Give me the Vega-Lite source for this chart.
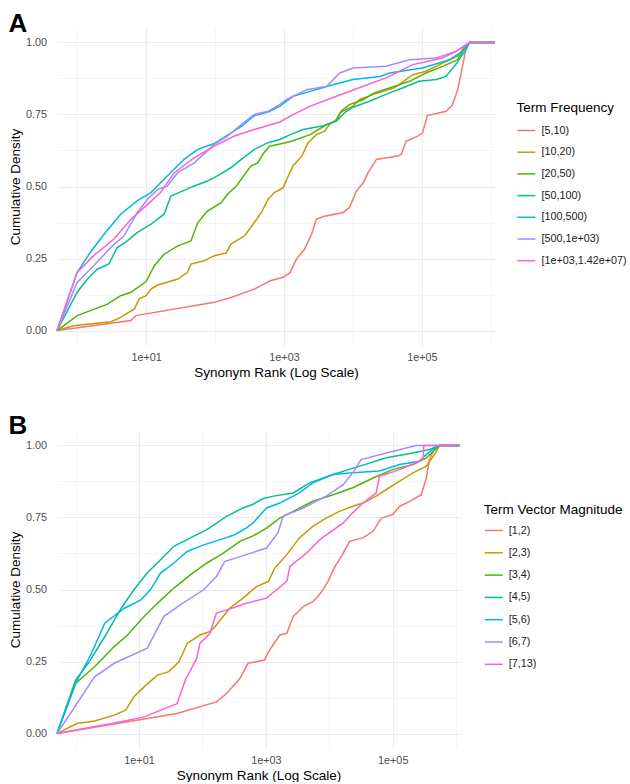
{
"$schema": "https://vega.github.io/schema/vega-lite/v6.json",
"padding": {"left": 8, "top": 11, "right": 0, "bottom": 0},
"config": {
  "view": {"stroke": null},
  "font": "Liberation Sans",
  "concat": {"spacing": 33},
  "title": {"fontSize": 26, "fontWeight": "bold", "anchor": "start", "frame": "bounds", "offset": -9, "color": "#000"},
  "axis": {"domain": false, "ticks": false, "tickSize": 0, "labelColor": "#4D4D4D", "labelFontSize": 10.8, "titleFontSize": 13.5, "titleFontWeight": "normal", "titleColor": "#000"},
  "axisX": {"labelPadding": 6, "titlePadding": 3.5},
  "axisY": {"labelPadding": 10.5, "titlePadding": 3},
  "legend": {"symbolType": "stroke", "symbolSize": 324, "symbolStrokeWidth": 1.5, "labelFontSize": 10.8, "labelColor": "#1A1A1A", "titleFontSize": 13.5, "titleFontWeight": "normal", "titleColor": "#000", "labelOffset": 5, "titlePadding": 6, "padding": 0}
},
"resolve": {"scale": {"color": "independent"}, "legend": {"color": "independent"}},
"datasets": {
"A": [
{"group":"[5,10)","rank":0.51,"density":0},{"group":"[5,10)","rank":6.03,"density":0.035},{"group":"[5,10)","rank":7.08,"density":0.052},{"group":"[5,10)","rank":97.7,"density":0.098},{"group":"[5,10)","rank":170,"density":0.115},{"group":"[5,10)","rank":372,"density":0.144},{"group":"[5,10)","rank":631,"density":0.173},{"group":"[5,10)","rank":977,"density":0.185},{"group":"[5,10)","rank":1230,"density":0.202},{"group":"[5,10)","rank":1514,"density":0.248},{"group":"[5,10)","rank":1995,"density":0.283},{"group":"[5,10)","rank":2512,"density":0.334},{"group":"[5,10)","rank":2951,"density":0.386},{"group":"[5,10)","rank":3715,"density":0.396},{"group":"[5,10)","rank":7244,"density":0.41},{"group":"[5,10)","rank":8913,"density":0.427},{"group":"[5,10)","rank":11220,"density":0.484},{"group":"[5,10)","rank":14130,"density":0.513},{"group":"[5,10)","rank":16600,"density":0.548},{"group":"[5,10)","rank":21880,"density":0.594},{"group":"[5,10)","rank":44670,"density":0.606},{"group":"[5,10)","rank":50120,"density":0.611},{"group":"[5,10)","rank":58880,"density":0.657},{"group":"[5,10)","rank":87100,"density":0.675},{"group":"[5,10)","rank":102300,"density":0.686},{"group":"[5,10)","rank":120200,"density":0.746},{"group":"[5,10)","rank":223900,"density":0.761},{"group":"[5,10)","rank":275400,"density":0.782},{"group":"[5,10)","rank":331100,"density":0.836},{"group":"[5,10)","rank":380200,"density":0.905},{"group":"[5,10)","rank":436500,"density":0.98},{"group":"[5,10)","rank":489800,"density":1},{"group":"[5,10)","rank":1150000,"density":1},
{"group":"[10,20)","rank":0.51,"density":0},{"group":"[10,20)","rank":0.891,"density":0.017},{"group":"[10,20)","rank":3.09,"density":0.031},{"group":"[10,20)","rank":4.27,"density":0.046},{"group":"[10,20)","rank":6.76,"density":0.075},{"group":"[10,20)","rank":7.94,"density":0.11},{"group":"[10,20)","rank":10,"density":0.121},{"group":"[10,20)","rank":11.75,"density":0.144},{"group":"[10,20)","rank":14.79,"density":0.158},{"group":"[10,20)","rank":28.84,"density":0.179},{"group":"[10,20)","rank":39.81,"density":0.202},{"group":"[10,20)","rank":44.67,"density":0.231},{"group":"[10,20)","rank":69.18,"density":0.242},{"group":"[10,20)","rank":97.72,"density":0.26},{"group":"[10,20)","rank":144.5,"density":0.269},{"group":"[10,20)","rank":169.8,"density":0.3},{"group":"[10,20)","rank":269.2,"density":0.329},{"group":"[10,20)","rank":371.5,"density":0.375},{"group":"[10,20)","rank":467.7,"density":0.409},{"group":"[10,20)","rank":588.8,"density":0.456},{"group":"[10,20)","rank":724.4,"density":0.479},{"group":"[10,20)","rank":977.2,"density":0.496},{"group":"[10,20)","rank":1096,"density":0.525},{"group":"[10,20)","rank":1349,"density":0.571},{"group":"[10,20)","rank":1820,"density":0.606},{"group":"[10,20)","rank":2239,"density":0.652},{"group":"[10,20)","rank":2951,"density":0.68},{"group":"[10,20)","rank":3890,"density":0.692},{"group":"[10,20)","rank":4571,"density":0.715},{"group":"[10,20)","rank":5754,"density":0.733},{"group":"[10,20)","rank":6457,"density":0.756},{"group":"[10,20)","rank":10000,"density":0.779},{"group":"[10,20)","rank":12590,"density":0.802},{"group":"[10,20)","rank":19500,"density":0.819},{"group":"[10,20)","rank":39810,"density":0.842},{"group":"[10,20)","rank":74130,"density":0.888},{"group":"[10,20)","rank":114800,"density":0.9},{"group":"[10,20)","rank":199500,"density":0.928},{"group":"[10,20)","rank":331100,"density":0.952},{"group":"[10,20)","rank":436500,"density":0.992},{"group":"[10,20)","rank":489800,"density":1},{"group":"[10,20)","rank":1150000,"density":1},
{"group":"[20,50)","rank":0.51,"density":0},{"group":"[20,50)","rank":1,"density":0.052},{"group":"[20,50)","rank":2.754,"density":0.092},{"group":"[20,50)","rank":4.266,"density":0.121},{"group":"[20,50)","rank":6.026,"density":0.133},{"group":"[20,50)","rank":10,"density":0.17},{"group":"[20,50)","rank":13.18,"density":0.225},{"group":"[20,50)","rank":18.2,"density":0.265},{"group":"[20,50)","rank":28.84,"density":0.294},{"group":"[20,50)","rank":44.67,"density":0.311},{"group":"[20,50)","rank":56.23,"density":0.375},{"group":"[20,50)","rank":77.62,"density":0.415},{"group":"[20,50)","rank":123,"density":0.444},{"group":"[20,50)","rank":151.4,"density":0.473},{"group":"[20,50)","rank":204.2,"density":0.502},{"group":"[20,50)","rank":269.2,"density":0.542},{"group":"[20,50)","rank":331.1,"density":0.571},{"group":"[20,50)","rank":416.9,"density":0.582},{"group":"[20,50)","rank":489.8,"density":0.611},{"group":"[20,50)","rank":616.6,"density":0.64},{"group":"[20,50)","rank":977.2,"density":0.65},{"group":"[20,50)","rank":1288,"density":0.657},{"group":"[20,50)","rank":2399,"density":0.68},{"group":"[20,50)","rank":4169,"density":0.715},{"group":"[20,50)","rank":5754,"density":0.727},{"group":"[20,50)","rank":6761,"density":0.761},{"group":"[20,50)","rank":8913,"density":0.784},{"group":"[20,50)","rank":14130,"density":0.802},{"group":"[20,50)","rank":20420,"density":0.825},{"group":"[20,50)","rank":33880,"density":0.842},{"group":"[20,50)","rank":66070,"density":0.865},{"group":"[20,50)","rank":114800,"density":0.894},{"group":"[20,50)","rank":199500,"density":0.917},{"group":"[20,50)","rank":331100,"density":0.94},{"group":"[20,50)","rank":389000,"density":0.969},{"group":"[20,50)","rank":489800,"density":1},{"group":"[20,50)","rank":1150000,"density":1},
{"group":"[50,100)","rank":0.51,"density":0},{"group":"[50,100)","rank":1,"density":0.133},{"group":"[50,100)","rank":1.413,"density":0.179},{"group":"[50,100)","rank":1.95,"density":0.213},{"group":"[50,100)","rank":2.884,"density":0.231},{"group":"[50,100)","rank":3.802,"density":0.288},{"group":"[50,100)","rank":5.012,"density":0.306},{"group":"[50,100)","rank":7.413,"density":0.34},{"group":"[50,100)","rank":11.75,"density":0.369},{"group":"[50,100)","rank":18.2,"density":0.404},{"group":"[50,100)","rank":22.91,"density":0.467},{"group":"[50,100)","rank":50.12,"density":0.502},{"group":"[50,100)","rank":77.62,"density":0.519},{"group":"[50,100)","rank":97.72,"density":0.531},{"group":"[50,100)","rank":169.8,"density":0.565},{"group":"[50,100)","rank":239.9,"density":0.594},{"group":"[50,100)","rank":371.5,"density":0.629},{"group":"[50,100)","rank":588.8,"density":0.652},{"group":"[50,100)","rank":871,"density":0.663},{"group":"[50,100)","rank":1230,"density":0.68},{"group":"[50,100)","rank":1905,"density":0.698},{"group":"[50,100)","rank":3715,"density":0.711},{"group":"[50,100)","rank":5754,"density":0.727},{"group":"[50,100)","rank":7943,"density":0.76},{"group":"[50,100)","rank":10000,"density":0.775},{"group":"[50,100)","rank":17380,"density":0.796},{"group":"[50,100)","rank":33880,"density":0.825},{"group":"[50,100)","rank":52480,"density":0.842},{"group":"[50,100)","rank":91200,"density":0.865},{"group":"[50,100)","rank":162200,"density":0.871},{"group":"[50,100)","rank":223900,"density":0.882},{"group":"[50,100)","rank":309000,"density":0.923},{"group":"[50,100)","rank":436500,"density":0.975},{"group":"[50,100)","rank":489800,"density":1},{"group":"[50,100)","rank":1150000,"density":1},
{"group":"[100,500)","rank":0.51,"density":0},{"group":"[100,500)","rank":1,"density":0.202},{"group":"[100,500)","rank":1.549,"density":0.271},{"group":"[100,500)","rank":2.455,"density":0.334},{"group":"[100,500)","rank":4.266,"density":0.404},{"group":"[100,500)","rank":7.413,"density":0.45},{"group":"[100,500)","rank":11.75,"density":0.479},{"group":"[100,500)","rank":16.22,"density":0.513},{"group":"[100,500)","rank":23.99,"density":0.554},{"group":"[100,500)","rank":35.48,"density":0.594},{"group":"[100,500)","rank":56.23,"density":0.629},{"group":"[100,500)","rank":97.72,"density":0.649},{"group":"[100,500)","rank":144.5,"density":0.675},{"group":"[100,500)","rank":239.9,"density":0.709},{"group":"[100,500)","rank":371.5,"density":0.746},{"group":"[100,500)","rank":588.8,"density":0.758},{"group":"[100,500)","rank":871,"density":0.779},{"group":"[100,500)","rank":1349,"density":0.813},{"group":"[100,500)","rank":2399,"density":0.83},{"group":"[100,500)","rank":5129,"density":0.853},{"group":"[100,500)","rank":10000,"density":0.871},{"group":"[100,500)","rank":24550,"density":0.882},{"group":"[100,500)","rank":33880,"density":0.894},{"group":"[100,500)","rank":102300,"density":0.911},{"group":"[100,500)","rank":251200,"density":0.94},{"group":"[100,500)","rank":389000,"density":0.969},{"group":"[100,500)","rank":489800,"density":1},{"group":"[100,500)","rank":1150000,"density":1},
{"group":"[500,1e+03)","rank":0.51,"density":0},{"group":"[500,1e+03)","rank":1,"density":0.167},{"group":"[500,1e+03)","rank":1.738,"density":0.225},{"group":"[500,1e+03)","rank":3.236,"density":0.294},{"group":"[500,1e+03)","rank":4.786,"density":0.329},{"group":"[500,1e+03)","rank":7.413,"density":0.409},{"group":"[500,1e+03)","rank":10.47,"density":0.456},{"group":"[500,1e+03)","rank":14.79,"density":0.49},{"group":"[500,1e+03)","rank":20.42,"density":0.502},{"group":"[500,1e+03)","rank":28.84,"density":0.548},{"group":"[500,1e+03)","rank":50.12,"density":0.582},{"group":"[500,1e+03)","rank":97.72,"density":0.646},{"group":"[500,1e+03)","rank":151.4,"density":0.675},{"group":"[500,1e+03)","rank":239.9,"density":0.715},{"group":"[500,1e+03)","rank":371.5,"density":0.75},{"group":"[500,1e+03)","rank":588.8,"density":0.761},{"group":"[500,1e+03)","rank":871,"density":0.785},{"group":"[500,1e+03)","rank":1096,"density":0.802},{"group":"[500,1e+03)","rank":2138,"density":0.836},{"group":"[500,1e+03)","rank":4169,"density":0.848},{"group":"[500,1e+03)","rank":6457,"density":0.894},{"group":"[500,1e+03)","rank":10000,"density":0.911},{"group":"[500,1e+03)","rank":30200,"density":0.917},{"group":"[500,1e+03)","rank":66070,"density":0.94},{"group":"[500,1e+03)","rank":162200,"density":0.946},{"group":"[500,1e+03)","rank":309000,"density":0.969},{"group":"[500,1e+03)","rank":489800,"density":1},{"group":"[500,1e+03)","rank":1150000,"density":1},
{"group":"[1e+03,1.42e+07)","rank":0.51,"density":0},{"group":"[1e+03,1.42e+07)","rank":1,"density":0.202},{"group":"[1e+03,1.42e+07)","rank":1.738,"density":0.26},{"group":"[1e+03,1.42e+07)","rank":3.388,"density":0.317},{"group":"[1e+03,1.42e+07)","rank":6.026,"density":0.386},{"group":"[1e+03,1.42e+07)","rank":10.47,"density":0.438},{"group":"[1e+03,1.42e+07)","rank":16.22,"density":0.479},{"group":"[1e+03,1.42e+07)","rank":25.7,"density":0.548},{"group":"[1e+03,1.42e+07)","rank":50.12,"density":0.6},{"group":"[1e+03,1.42e+07)","rank":97.72,"density":0.64},{"group":"[1e+03,1.42e+07)","rank":190.5,"density":0.675},{"group":"[1e+03,1.42e+07)","rank":371.5,"density":0.698},{"group":"[1e+03,1.42e+07)","rank":871,"density":0.724},{"group":"[1e+03,1.42e+07)","rank":1230,"density":0.744},{"group":"[1e+03,1.42e+07)","rank":2399,"density":0.779},{"group":"[1e+03,1.42e+07)","rank":5754,"density":0.813},{"group":"[1e+03,1.42e+07)","rank":14130,"density":0.848},{"group":"[1e+03,1.42e+07)","rank":30200,"density":0.877},{"group":"[1e+03,1.42e+07)","rank":74130,"density":0.923},{"group":"[1e+03,1.42e+07)","rank":199500,"density":0.946},{"group":"[1e+03,1.42e+07)","rank":346700,"density":0.975},{"group":"[1e+03,1.42e+07)","rank":489800,"density":1},{"group":"[1e+03,1.42e+07)","rank":1150000,"density":1}
],
"B": [
{"group":"[1,2)","rank":0.51,"density":0},{"group":"[1,2)","rank":6.607,"density":0.041},{"group":"[1,2)","rank":39.81,"density":0.07},{"group":"[1,2)","rank":166,"density":0.11},{"group":"[1,2)","rank":239.9,"density":0.139},{"group":"[1,2)","rank":389,"density":0.191},{"group":"[1,2)","rank":524.8,"density":0.244},{"group":"[1,2)","rank":955,"density":0.255},{"group":"[1,2)","rank":1096,"density":0.284},{"group":"[1,2)","rank":1660,"density":0.342},{"group":"[1,2)","rank":2138,"density":0.348},{"group":"[1,2)","rank":2692,"density":0.406},{"group":"[1,2)","rank":3236,"density":0.423},{"group":"[1,2)","rank":3890,"density":0.441},{"group":"[1,2)","rank":5495,"density":0.458},{"group":"[1,2)","rank":6607,"density":0.476},{"group":"[1,2)","rank":7943,"density":0.499},{"group":"[1,2)","rank":9550,"density":0.528},{"group":"[1,2)","rank":12300,"density":0.58},{"group":"[1,2)","rank":15490,"density":0.615},{"group":"[1,2)","rank":20890,"density":0.667},{"group":"[1,2)","rank":33880,"density":0.679},{"group":"[1,2)","rank":48980,"density":0.702},{"group":"[1,2)","rank":66070,"density":0.748},{"group":"[1,2)","rank":100000,"density":0.76},{"group":"[1,2)","rank":128800,"density":0.789},{"group":"[1,2)","rank":186200,"density":0.806},{"group":"[1,2)","rank":281800,"density":0.829},{"group":"[1,2)","rank":338800,"density":0.887},{"group":"[1,2)","rank":380200,"density":0.951},{"group":"[1,2)","rank":457100,"density":0.988},{"group":"[1,2)","rank":549500,"density":1},{"group":"[1,2)","rank":1150000,"density":1},
{"group":"[2,3)","rank":0.51,"density":0},{"group":"[2,3)","rank":1.047,"density":0.035},{"group":"[2,3)","rank":1.995,"density":0.044},{"group":"[2,3)","rank":4.074,"density":0.064},{"group":"[2,3)","rank":6.166,"density":0.081},{"group":"[2,3)","rank":8.318,"density":0.128},{"group":"[2,3)","rank":12.02,"density":0.162},{"group":"[2,3)","rank":19.5,"density":0.203},{"group":"[2,3)","rank":29.51,"density":0.215},{"group":"[2,3)","rank":42.66,"density":0.249},{"group":"[2,3)","rank":57.54,"density":0.313},{"group":"[2,3)","rank":91.2,"density":0.342},{"group":"[2,3)","rank":131.8,"density":0.354},{"group":"[2,3)","rank":166,"density":0.377},{"group":"[2,3)","rank":269.2,"density":0.435},{"group":"[2,3)","rank":436.5,"density":0.47},{"group":"[2,3)","rank":707.9,"density":0.51},{"group":"[2,3)","rank":1096,"density":0.528},{"group":"[2,3)","rank":1380,"density":0.574},{"group":"[2,3)","rank":2138,"density":0.621},{"group":"[2,3)","rank":3388,"density":0.679},{"group":"[2,3)","rank":5495,"density":0.719},{"group":"[2,3)","rank":8913,"density":0.748},{"group":"[2,3)","rank":14450,"density":0.771},{"group":"[2,3)","rank":23440,"density":0.789},{"group":"[2,3)","rank":33880,"density":0.8},{"group":"[2,3)","rank":54950,"density":0.824},{"group":"[2,3)","rank":79430,"density":0.847},{"group":"[2,3)","rank":128800,"density":0.876},{"group":"[2,3)","rank":208900,"density":0.905},{"group":"[2,3)","rank":338800,"density":0.928},{"group":"[2,3)","rank":457100,"density":0.969},{"group":"[2,3)","rank":549500,"density":1},{"group":"[2,3)","rank":1150000,"density":1},
{"group":"[3,4)","rank":0.51,"density":0},{"group":"[3,4)","rank":1,"density":0.174},{"group":"[3,4)","rank":1.995,"density":0.232},{"group":"[3,4)","rank":4.074,"density":0.302},{"group":"[3,4)","rank":6.607,"density":0.342},{"group":"[3,4)","rank":12.02,"density":0.406},{"group":"[3,4)","rank":19.5,"density":0.452},{"group":"[3,4)","rank":35.48,"density":0.505},{"group":"[3,4)","rank":64.57,"density":0.551},{"group":"[3,4)","rank":117.5,"density":0.592},{"group":"[3,4)","rank":213.8,"density":0.626},{"group":"[3,4)","rank":389,"density":0.667},{"group":"[3,4)","rank":616.6,"density":0.685},{"group":"[3,4)","rank":1023,"density":0.713},{"group":"[3,4)","rank":1660,"density":0.748},{"group":"[3,4)","rank":2692,"density":0.771},{"group":"[3,4)","rank":5495,"density":0.806},{"group":"[3,4)","rank":11480,"density":0.829},{"group":"[3,4)","rank":23440,"density":0.853},{"group":"[3,4)","rank":48980,"density":0.887},{"group":"[3,4)","rank":100000,"density":0.916},{"group":"[3,4)","rank":208900,"density":0.934},{"group":"[3,4)","rank":338800,"density":0.957},{"group":"[3,4)","rank":549500,"density":1},{"group":"[3,4)","rank":1150000,"density":1},
{"group":"[4,5)","rank":0.51,"density":0},{"group":"[4,5)","rank":1,"density":0.186},{"group":"[4,5)","rank":1.585,"density":0.244},{"group":"[4,5)","rank":2.884,"density":0.336},{"group":"[4,5)","rank":5.248,"density":0.435},{"group":"[4,5)","rank":8.318,"density":0.499},{"group":"[4,5)","rank":13.49,"density":0.557},{"group":"[4,5)","rank":21.88,"density":0.603},{"group":"[4,5)","rank":35.48,"density":0.65},{"group":"[4,5)","rank":64.57,"density":0.679},{"group":"[4,5)","rank":117.5,"density":0.708},{"group":"[4,5)","rank":239.9,"density":0.754},{"group":"[4,5)","rank":436.5,"density":0.783},{"group":"[4,5)","rank":616.6,"density":0.795},{"group":"[4,5)","rank":891.3,"density":0.815},{"group":"[4,5)","rank":1318,"density":0.824},{"group":"[4,5)","rank":2692,"density":0.835},{"group":"[4,5)","rank":4898,"density":0.87},{"group":"[4,5)","rank":11480,"density":0.899},{"group":"[4,5)","rank":30200,"density":0.928},{"group":"[4,5)","rank":79430,"density":0.957},{"group":"[4,5)","rank":208900,"density":0.974},{"group":"[4,5)","rank":380200,"density":0.986},{"group":"[4,5)","rank":549500,"density":1},{"group":"[4,5)","rank":1150000,"density":1},
{"group":"[5,6)","rank":0.51,"density":0},{"group":"[5,6)","rank":1,"density":0.174},{"group":"[5,6)","rank":1.778,"density":0.278},{"group":"[5,6)","rank":2.884,"density":0.383},{"group":"[5,6)","rank":5.888,"density":0.435},{"group":"[5,6)","rank":10.72,"density":0.464},{"group":"[5,6)","rank":15.14,"density":0.499},{"group":"[5,6)","rank":21.88,"density":0.557},{"group":"[5,6)","rank":35.48,"density":0.592},{"group":"[5,6)","rank":57.54,"density":0.632},{"group":"[5,6)","rank":104.7,"density":0.655},{"group":"[5,6)","rank":190.5,"density":0.673},{"group":"[5,6)","rank":323.6,"density":0.69},{"group":"[5,6)","rank":489.8,"density":0.713},{"group":"[5,6)","rank":631,"density":0.731},{"group":"[5,6)","rank":1023,"density":0.783},{"group":"[5,6)","rank":1660,"density":0.8},{"group":"[5,6)","rank":3388,"density":0.835},{"group":"[5,6)","rank":5495,"density":0.87},{"group":"[5,6)","rank":11480,"density":0.899},{"group":"[5,6)","rank":23440,"density":0.905},{"group":"[5,6)","rank":61660,"density":0.911},{"group":"[5,6)","rank":128800,"density":0.934},{"group":"[5,6)","rank":263000,"density":0.945},{"group":"[5,6)","rank":316200,"density":0.963},{"group":"[5,6)","rank":426600,"density":0.986},{"group":"[5,6)","rank":549500,"density":1},{"group":"[5,6)","rank":1150000,"density":1},
{"group":"[6,7)","rank":0.51,"density":0},{"group":"[6,7)","rank":1.995,"density":0.197},{"group":"[6,7)","rank":4.074,"density":0.244},{"group":"[6,7)","rank":13.49,"density":0.296},{"group":"[6,7)","rank":24.55,"density":0.406},{"group":"[6,7)","rank":44.67,"density":0.447},{"group":"[6,7)","rank":104.7,"density":0.499},{"group":"[6,7)","rank":166,"density":0.545},{"group":"[6,7)","rank":223.9,"density":0.597},{"group":"[6,7)","rank":489.8,"density":0.621},{"group":"[6,7)","rank":1023,"density":0.644},{"group":"[6,7)","rank":1549,"density":0.696},{"group":"[6,7)","rank":1862,"density":0.754},{"group":"[6,7)","rank":3890,"density":0.783},{"group":"[6,7)","rank":8913,"density":0.824},{"group":"[6,7)","rank":16600,"density":0.864},{"group":"[6,7)","rank":23440,"density":0.905},{"group":"[6,7)","rank":31620,"density":0.951},{"group":"[6,7)","rank":79430,"density":0.974},{"group":"[6,7)","rank":234400,"density":1},{"group":"[6,7)","rank":1150000,"density":1},
{"group":"[7,13)","rank":0.51,"density":0},{"group":"[7,13)","rank":5.248,"density":0.041},{"group":"[7,13)","rank":12.02,"density":0.058},{"group":"[7,13)","rank":39.81,"density":0.104},{"group":"[7,13)","rank":53.7,"density":0.186},{"group":"[7,13)","rank":81.28,"density":0.261},{"group":"[7,13)","rank":91.2,"density":0.313},{"group":"[7,13)","rank":131.8,"density":0.348},{"group":"[7,13)","rank":166,"density":0.418},{"group":"[7,13)","rank":269.2,"density":0.432},{"group":"[7,13)","rank":489.8,"density":0.452},{"group":"[7,13)","rank":1023,"density":0.47},{"group":"[7,13)","rank":1479,"density":0.499},{"group":"[7,13)","rank":2138,"density":0.528},{"group":"[7,13)","rank":2399,"density":0.58},{"group":"[7,13)","rank":4365,"density":0.626},{"group":"[7,13)","rank":7079,"density":0.673},{"group":"[7,13)","rank":16600,"density":0.731},{"group":"[7,13)","rank":23440,"density":0.766},{"group":"[7,13)","rank":33880,"density":0.8},{"group":"[7,13)","rank":54950,"density":0.835},{"group":"[7,13)","rank":61660,"density":0.893},{"group":"[7,13)","rank":128800,"density":0.916},{"group":"[7,13)","rank":263000,"density":0.945},{"group":"[7,13)","rank":302000,"density":0.957},{"group":"[7,13)","rank":309000,"density":1},{"group":"[7,13)","rank":1150000,"density":1}
]
},
"vconcat": [
{
  "title": {"text": "A"},
  "width": 438, "height": 317,
  "data": {"name": "A"},
  "mark": {"type": "line", "strokeWidth": 1.5},
  "encoding": {
    "x": {"field": "rank", "type": "quantitative",
      "scale": {"type": "log", "domain": [0.51, 1150000], "nice": false},
      "axis": {"title": "Synonym Rank (Log Scale)", "values": [1,10,100,1000,10000,100000,1000000],
        "labelExpr": "datum.value == 10 ? '1e+01' : datum.value == 1000 ? '1e+03' : datum.value == 100000 ? '1e+05' : ''",
        "gridColor": {"condition": {"test": "indexof([10,1000,100000], datum.value) < 0", "value": "#F2F2F2"}, "value": "#EBEBEB"},
        "gridWidth": {"condition": {"test": "indexof([10,1000,100000], datum.value) < 0", "value": 0.8}, "value": 1.2}}},
    "y": {"field": "density", "type": "quantitative",
      "scale": {"domain": [-0.05, 1.05], "nice": false, "zero": false},
      "axis": {"title": "Cumulative Density", "values": [0,0.125,0.25,0.375,0.5,0.625,0.75,0.875,1],
        "labelExpr": "datum.value % 0.25 == 0 ? format(datum.value, '.2f') : ''",
        "gridColor": {"condition": {"test": "datum.value % 0.25 != 0", "value": "#F2F2F2"}, "value": "#EBEBEB"},
        "gridWidth": {"condition": {"test": "datum.value % 0.25 != 0", "value": 0.8}, "value": 1.2}}},
    "color": {"field": "group", "type": "nominal",
      "scale": {"domain": ["[5,10)","[10,20)","[20,50)","[50,100)","[100,500)","[500,1e+03)","[1e+03,1.42e+07)"],
        "range": ["#F8766D","#C49A00","#53B400","#00C094","#00B6EB","#A58AFF","#FB61D7"]},
      "legend": {"title": "Term Frequency", "orient": "none", "legendX": 459.4, "legendY": 73, "rowPadding": 6.7}}
  }
},
{
  "title": {"text": "B", "offset": -7.5},
  "width": 403, "height": 317,
  "data": {"name": "B"},
  "mark": {"type": "line", "strokeWidth": 1.5},
  "encoding": {
    "x": {"field": "rank", "type": "quantitative",
      "scale": {"type": "log", "domain": [0.51, 1150000], "nice": false},
      "axis": {"title": "Synonym Rank (Log Scale)", "values": [1,10,100,1000,10000,100000,1000000],
        "labelExpr": "datum.value == 10 ? '1e+01' : datum.value == 1000 ? '1e+03' : datum.value == 100000 ? '1e+05' : ''",
        "gridColor": {"condition": {"test": "indexof([10,1000,100000], datum.value) < 0", "value": "#F2F2F2"}, "value": "#EBEBEB"},
        "gridWidth": {"condition": {"test": "indexof([10,1000,100000], datum.value) < 0", "value": 0.8}, "value": 1.2}}},
    "y": {"field": "density", "type": "quantitative",
      "scale": {"domain": [-0.05, 1.05], "nice": false, "zero": false},
      "axis": {"title": "Cumulative Density", "values": [0,0.125,0.25,0.375,0.5,0.625,0.75,0.875,1],
        "labelExpr": "datum.value % 0.25 == 0 ? format(datum.value, '.2f') : ''",
        "gridColor": {"condition": {"test": "datum.value % 0.25 != 0", "value": "#F2F2F2"}, "value": "#EBEBEB"},
        "gridWidth": {"condition": {"test": "datum.value % 0.25 != 0", "value": 0.8}, "value": 1.2}}},
    "color": {"field": "group", "type": "nominal",
      "scale": {"domain": ["[1,2)","[2,3)","[3,4)","[4,5)","[5,6)","[6,7)","[7,13)"],
        "range": ["#F8766D","#C49A00","#53B400","#00C094","#00B6EB","#A58AFF","#FB61D7"]},
      "legend": {"title": "Term Vector Magnitude", "orient": "none", "legendX": 426.7, "legendY": 72, "titlePadding": 4, "rowPadding": 7.3}}
  }
}
]
}
